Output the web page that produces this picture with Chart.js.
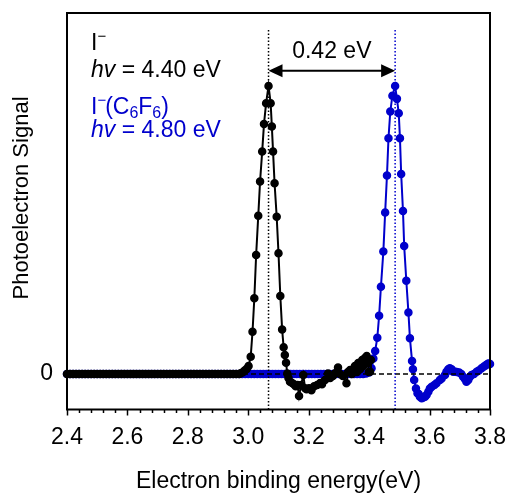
<!DOCTYPE html>
<html>
<head>
<meta charset="utf-8">
<script src="https://cdn.jsdelivr.net/npm/chart.js@4.4.0/dist/chart.umd.min.js"></script>
<style>
  html, body { margin: 0; padding: 0; background: #fff; }
  #wrap { width: 507px; height: 495px; }
</style>
</head>
<body>
<div id="wrap"><canvas id="pes-chart"></canvas></div>
<script>
// I- spectrum (hv = 4.40 eV): flat baseline, peak, noisy tail
const blackBaseEnergy = [
  2.40, 2.41, 2.42, 2.43, 2.44, 2.45, 2.46, 2.47, 2.48, 2.49,
  2.50, 2.51, 2.52, 2.53, 2.54, 2.55, 2.56, 2.57, 2.58, 2.59,
  2.60, 2.61, 2.62, 2.63, 2.64, 2.65, 2.66, 2.67, 2.68, 2.69,
  2.70, 2.71, 2.72, 2.73, 2.74, 2.75, 2.76, 2.77, 2.78, 2.79,
  2.80, 2.81, 2.82, 2.83, 2.84, 2.85, 2.86, 2.87, 2.88, 2.89,
  2.90, 2.91, 2.92, 2.93, 2.94, 2.95, 2.96, 2.97
];
const blackBaseSignal = [
  0, 0, 0, 0, 0, 0, 0, 0, 0, 0,
  0, 0, 0, 0, 0, 0, 0, 0, 0, 0,
  0, 0, 0, 0, 0, 0, 0, 0, 0, 0,
  0, 0, 0, 0, 0, 0, 0, 0, 0, 0,
  0, 0, 0, 0, 0, 0, 0, 0, 0, 0,
  0, 0, 0, 0, 0, 0, 0, 0
];
const blackPeakEnergy = [
  2.975, 2.982, 2.988, 2.995, 3.001, 3.008, 3.014, 3.020, 3.026, 3.033,
  3.039, 3.046, 3.052, 3.059, 3.067, 3.074, 3.078, 3.082, 3.087, 3.094,
  3.100, 3.106, 3.112, 3.117, 3.121, 3.125
];
const blackPeakSignal = [
  0.003, 0.006, 0.012, 0.018, 0.028, 0.060, 0.147, 0.263, 0.413, 0.549,
  0.668, 0.772, 0.868, 0.940, 1.000, 0.940, 0.859, 0.772, 0.662, 0.546,
  0.419, 0.271, 0.155, 0.093, 0.066, 0.039
];
const blackTailEnergy = [
  3.129, 3.133, 3.138, 3.145, 3.151, 3.157, 3.163, 3.168, 3.175, 3.182,
  3.188, 3.193, 3.201, 3.209, 3.218, 3.228, 3.238, 3.244, 3.254, 3.264,
  3.271, 3.280, 3.287, 3.297, 3.304, 3.313, 3.325, 3.330, 3.337, 3.343,
  3.347, 3.353, 3.360, 3.364, 3.370, 3.377, 3.381, 3.386, 3.392, 3.396,
  3.399, 3.403, 3.406
];
const blackTailSignal = [
  0.002, -0.014, -0.027, -0.031, -0.035, -0.042, -0.038, -0.076, -0.038, -0.003,
  -0.049, -0.053, -0.049, -0.056, -0.042, -0.038, -0.031, -0.035, -0.021, 0.002,
  -0.014, -0.007, 0.003, 0.023, 0.000, -0.007, -0.032, 0.007, 0.014, 0.000,
  0.017, 0.028, 0.007, 0.038, 0.017, 0.049, 0.028, 0.056, 0.063, 0.038,
  0.007, 0.008, 0.049
];

// I-(C6F6) spectrum (hv = 4.80 eV)
const blueBaseEnergy = [
  2.40, 2.41, 2.42, 2.43, 2.44, 2.45, 2.46, 2.47, 2.48, 2.49,
  2.50, 2.51, 2.52, 2.53, 2.54, 2.55, 2.56, 2.57, 2.58, 2.59,
  2.60, 2.61, 2.62, 2.63, 2.64, 2.65, 2.66, 2.67, 2.68, 2.69,
  2.70, 2.71, 2.72, 2.73, 2.74, 2.75, 2.76, 2.77, 2.78, 2.79,
  2.80, 2.81, 2.82, 2.83, 2.84, 2.85, 2.86, 2.87, 2.88, 2.89,
  2.90, 2.91, 2.92, 2.93, 2.94, 2.95, 2.96, 2.97, 2.98, 2.99,
  3.00, 3.01, 3.02, 3.03, 3.04, 3.05, 3.06, 3.07, 3.08, 3.09,
  3.10, 3.11, 3.12, 3.13, 3.14, 3.15, 3.16, 3.17, 3.18, 3.19,
  3.20, 3.21, 3.22, 3.23, 3.24, 3.25, 3.26, 3.27, 3.28, 3.29,
  3.30, 3.31, 3.32, 3.33, 3.34, 3.35, 3.36, 3.37, 3.38, 3.39,
  3.40
];
const blueBaseSignal = [
  0, 0, 0, 0, 0, 0, 0, 0, 0, 0,
  0, 0, 0, 0, 0, 0, 0, 0, 0, 0,
  0, 0, 0, 0, 0, 0, 0, 0, 0, 0,
  0, 0, 0, 0, 0, 0, 0, 0, 0, 0,
  0, 0, 0, 0, 0, 0, 0, 0, 0, 0,
  0, 0, 0, 0, 0, 0, 0, 0, 0, 0,
  0, 0, 0, 0, 0, 0, 0, 0, 0, 0,
  0, 0, 0, 0, 0, 0, 0, 0, 0, 0,
  0, 0, 0, 0, 0, 0, 0, 0, 0, 0,
  0, 0, 0, 0, 0, 0, 0, 0, 0, 0.002,
  0.005
];
const bluePeakEnergy = [
  3.408, 3.414, 3.420, 3.427, 3.433, 3.439, 3.447, 3.453, 3.459, 3.464,
  3.470, 3.477, 3.486, 3.492, 3.498, 3.502, 3.506, 3.512, 3.516, 3.523,
  3.530, 3.535, 3.542, 3.545
];
const bluePeakSignal = [
  0.020, 0.054, 0.080, 0.126, 0.202, 0.303, 0.425, 0.561, 0.689, 0.818,
  0.911, 0.966, 1.000, 0.955, 0.905, 0.818, 0.694, 0.566, 0.444, 0.324,
  0.214, 0.124, 0.045, 0.017
];
const blueTailEnergy = [
  3.549, 3.555, 3.560, 3.564, 3.568, 3.574, 3.579, 3.585, 3.590, 3.596,
  3.601, 3.607, 3.616, 3.623, 3.634, 3.640, 3.651, 3.656, 3.662, 3.667,
  3.673, 3.678, 3.684, 3.690, 3.698, 3.705, 3.711, 3.717, 3.722, 3.728,
  3.733, 3.739, 3.747, 3.756, 3.763, 3.772, 3.780, 3.787, 3.793, 3.797,
  3.800
];
const blueTailSignal = [
  -0.021, -0.050, -0.067, -0.069, -0.079, -0.084, -0.081, -0.079, -0.073, -0.061,
  -0.050, -0.044, -0.038, -0.032, -0.021, -0.015, -0.003, 0.008, 0.017, 0.020,
  0.017, 0.008, 0.008, 0.007, 0.005, 0.000, -0.009, -0.017, -0.027, -0.021,
  -0.010, -0.003, 0.000, 0.008, 0.012, 0.020, 0.026, 0.031, 0.036, 0.037,
  0.035
];

const xTickValues = [2.4, 2.6, 2.8, 3.0, 3.2, 3.4, 3.6, 3.8];
const xTickLabels = ["2.4", "2.6", "2.8", "3.0", "3.2", "3.4", "3.6", "3.8"];
const yTickValues = [0];
const yTickLabels = ["0"];

// peak maxima marked with dotted lines, and the shift between them
const peakPositions = [3.067, 3.486];
const shiftLabel = "0.42 eV";

const BLACK = "#000000";
const BLUE = "#0000CC";
const FONT = "'Liberation Sans', Arial, sans-serif";

function toPoints(xs, ys) {
  return xs.map((x, i) => ({ x: x, y: ys[i] }));
}

const blackPoints = toPoints(blackBaseEnergy, blackBaseSignal)
  .concat(toPoints(blackPeakEnergy, blackPeakSignal))
  .concat(toPoints(blackTailEnergy, blackTailSignal));
const bluePoints = toPoints(blueBaseEnergy, blueBaseSignal)
  .concat(toPoints(bluePeakEnergy, bluePeakSignal))
  .concat(toPoints(blueTailEnergy, blueTailSignal));

// frame, ticks, zero line, peak markers, labels
const decorations = {
  id: "decorations",
  afterDatasetsDraw(chart) {
    const ctx = chart.ctx;
    const a = chart.chartArea;
    const xs = chart.scales.x;
    const ys = chart.scales.y;
    ctx.save();

    // dashed zero line
    const y0 = ys.getPixelForValue(0);
    ctx.strokeStyle = BLACK;
    ctx.lineWidth = 1.5;
    ctx.setLineDash([5, 3]);
    ctx.beginPath();
    ctx.moveTo(a.left, y0);
    ctx.lineTo(a.right, y0);
    ctx.stroke();

    // dotted lines through peak maxima
    ctx.setLineDash([1.5, 2]);
    ctx.lineWidth = 1.5;
    const lineTop = ys.getPixelForValue(1.194);
    [BLACK, BLUE].forEach((c, i) => {
      const px = xs.getPixelForValue(peakPositions[i]);
      ctx.strokeStyle = c;
      ctx.beginPath();
      ctx.moveTo(px, lineTop);
      ctx.lineTo(px, a.bottom);
      ctx.stroke();
    });
    ctx.setLineDash([]);

    // double arrow between the peaks
    const ax1 = xs.getPixelForValue(peakPositions[0]);
    const ax2 = xs.getPixelForValue(peakPositions[1]);
    const ay = ys.getPixelForValue(1.053);
    const head = 14, half = 6.5;
    ctx.strokeStyle = BLACK;
    ctx.fillStyle = BLACK;
    ctx.lineWidth = 2;
    ctx.beginPath();
    ctx.moveTo(ax1 + head - 1, ay);
    ctx.lineTo(ax2 - head + 1, ay);
    ctx.stroke();
    ctx.beginPath();
    ctx.moveTo(ax1, ay);
    ctx.lineTo(ax1 + head, ay - half);
    ctx.lineTo(ax1 + head, ay + half);
    ctx.closePath();
    ctx.fill();
    ctx.beginPath();
    ctx.moveTo(ax2, ay);
    ctx.lineTo(ax2 - head, ay - half);
    ctx.lineTo(ax2 - head, ay + half);
    ctx.closePath();
    ctx.fill();

    ctx.font = "23px " + FONT;
    ctx.textAlign = "center";
    ctx.textBaseline = "alphabetic";
    ctx.fillText(shiftLabel, (ax1 + ax2) / 2, ys.getPixelForValue(1.096));

    ctx.restore();
  },
  afterDraw(chart) {
    const ctx = chart.ctx;
    const a = chart.chartArea;
    const xs = chart.scales.x;
    ctx.save();

    // plot frame
    ctx.strokeStyle = BLACK;
    ctx.lineWidth = 2;
    ctx.strokeRect(a.left, a.top, a.right - a.left, a.bottom - a.top);

    // outward tick marks on the energy axis, minor every 0.04 eV
    ctx.lineWidth = 1.5;
    for (let i = 0; i <= 35; i++) {
      const v = 2.4 + i * 0.04;
      const px = Math.round(xs.getPixelForValue(v)) + 0.5;
      const len = i % 5 === 0 ? 6 : 3.5;
      ctx.beginPath();
      ctx.moveTo(px, a.bottom);
      ctx.lineTo(px, a.bottom + len);
      ctx.stroke();
    }

    // y axis title
    ctx.fillStyle = BLACK;
    ctx.font = "22px " + FONT;
    ctx.textAlign = "center";
    ctx.textBaseline = "middle";
    ctx.translate(22, 198);
    ctx.rotate(-Math.PI / 2);
    ctx.fillText("Photoelectron Signal", 0, 0);
    ctx.setTransform(1, 0, 0, 1, 0, 0);

    // species labels
    const lx = a.left + 24;
    const main = "23px " + FONT;
    const ital = "italic 23px " + FONT;
    const sup = "15px " + FONT;
    const sub = "16px " + FONT;
    ctx.textAlign = "left";
    ctx.textBaseline = "alphabetic";

    function run(parts, x, y, color) {
      ctx.fillStyle = color;
      parts.forEach(p => {
        ctx.font = p[1];
        ctx.fillText(p[0], x, y + (p[2] || 0));
        x += ctx.measureText(p[0]).width + (p[3] || 0);
      });
    }
    run([["I", main, 0, 0], ["\u2212", sup, -9, 0]], lx, 50, BLACK);
    run([["hv", ital], [" = 4.40 eV", main]], lx, 77, BLACK);
    run([["I", main, 0, 0], ["\u2212", sup, -9, -1], ["(C", main], ["6", sub, 4], ["F", main], ["6", sub, 4], [")", main]], lx, 114, BLUE);
    run([["hv", ital], [" = 4.80 eV", main]], lx, 137, BLUE);

    ctx.restore();
  }
};

const ctx = document.getElementById("pes-chart").getContext("2d");

new Chart(ctx, {
  type: "scatter",
  data: {
    datasets: [
      {
        label: "I\u2212 (hv = 4.40 eV)",
        data: blackPoints,
        showLine: true,
        borderColor: BLACK,
        backgroundColor: BLACK,
        borderWidth: 2,
        pointRadius: 3.5,
        pointBorderWidth: 1.5,
        clip: false,
        order: 0
      },
      {
        label: "I\u2212(C6F6) (hv = 4.80 eV)",
        data: bluePoints,
        showLine: true,
        borderColor: BLUE,
        backgroundColor: BLUE,
        borderWidth: 2,
        pointRadius: 3.5,
        pointBorderWidth: 1.5,
        clip: false,
        order: 1
      }
    ]
  },
  options: {
    responsive: true,
    maintainAspectRatio: false,
    animation: false,
    layout: { padding: { top: 13, right: 17, left: 0, bottom: 0 } },
    plugins: {
      legend: { display: false },
      tooltip: { enabled: false }
    },
    scales: {
      x: {
        type: "linear",
        min: 2.4,
        max: 3.8,
        afterFit: function(scale) {
          scale.height = 85.5;
          scale.paddingLeft = 0;
          scale.paddingRight = 0;
        },
        afterBuildTicks: function(scale) {
          scale.ticks = xTickValues.map(v => ({ value: v }));
        },
        grid: { display: false, drawTicks: false },
        border: { display: false },
        ticks: {
          autoSkip: false,
          maxRotation: 0,
          padding: 14,
          color: BLACK,
          font: { family: FONT, size: 23 },
          callback: function(value, index) { return xTickLabels[index]; }
        },
        title: {
          display: true,
          text: "Electron binding energy(eV)",
          color: BLACK,
          font: { family: FONT, size: 23 },
          padding: { top: 0, bottom: 0 }
        }
      },
      y: {
        type: "linear",
        min: -0.123,
        max: 1.253,
        afterFit: function(scale) {
          scale.width = 67;
          scale.paddingTop = 0;
          scale.paddingBottom = 0;
        },
        afterBuildTicks: function(scale) {
          scale.ticks = yTickValues.map(v => ({ value: v }));
        },
        grid: { display: false, drawTicks: false },
        border: { display: false },
        ticks: {
          padding: 14,
          color: BLACK,
          font: { family: FONT, size: 23 },
          callback: function(value, index) { return yTickLabels[index]; }
        }
      }
    }
  },
  plugins: [decorations]
});
</script>
</body>
</html>
